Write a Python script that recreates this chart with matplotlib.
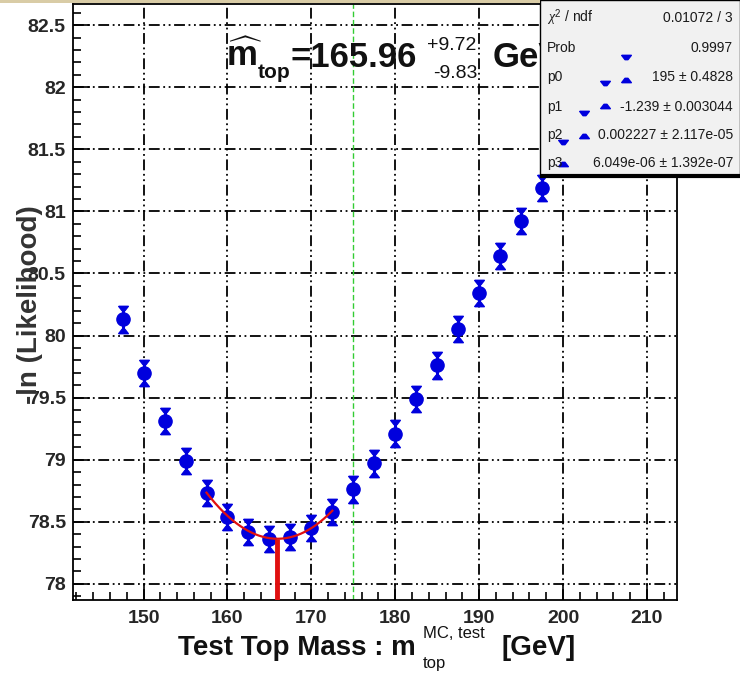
import numpy as np
import matplotlib.pyplot as plt
from matplotlib.patches import Rectangle
from matplotlib.ticker import MultipleLocator

plt.rcParams['font.family'] = ['Liberation Sans', 'DejaVu Sans']
plt.rcParams['mathtext.fontset'] = 'custom'
plt.rcParams['mathtext.rm'] = 'Liberation Sans'
plt.rcParams['mathtext.it'] = 'Liberation Serif:italic'
plt.rcParams['mathtext.bf'] = 'Liberation Sans:bold'

# test masses and -ln(L) values with their errors
mass = [147.5, 150.0, 152.5, 155.0, 157.5, 160.0, 162.5, 165.0, 167.5, 170.0, 172.5,
        175.0, 177.5, 180.0, 182.5, 185.0, 187.5, 190.0, 192.5, 195.0, 197.5]
nll = [80.13, 79.70, 79.31, 78.99, 78.73, 78.54, 78.42, 78.36, 78.38, 78.45, 78.58,
       78.76, 78.97, 79.21, 79.49, 79.76, 80.05, 80.34, 80.64, 80.92, 81.19]
nll_err = [0.09] * len(mass)

# points that sit under the stats box (only their end caps poke through)
mass_hid = [200.0, 202.5, 205.0, 207.5]
nll_hid = [81.47, 81.70, 81.94, 82.15]
err_hid = [0.09] * len(mass_hid)

# pol3 fit result
fit_par = [195.0, -1.239, 0.002227, 6.049e-06]
fit_lo, fit_hi = 157.5, 172.5
m_fit, err_up, err_dn = 165.96, 9.72, 9.83
m_input = 175.0

stat_rows = [(r'$\chi^2$ / ndf', '0.01072 / 3'),
             ('Prob', '0.9997'),
             ('p0', '195 ± 0.4828'),
             ('p1', '-1.239 ± 0.003044'),
             ('p2', '0.002227 ± 2.117e-05'),
             ('p3', '6.049e-06 ± 1.392e-07')]

W, H = 740, 673
fig = plt.figure(figsize=(W / 100, H / 100), dpi=100)
ax = fig.add_axes([72.7 / W, 1 - 600 / H, 604 / W, 596 / H])

def fpos(px, py):
    return px / W, 1 - py / H

blue = '#0000dd'
ink = '#111111'

def pol3(x):
    return fit_par[0] + fit_par[1] * x + fit_par[2] * x**2 + fit_par[3] * x**3

# flat triangular end caps, wide side outwards
cap_top = [(-1, 0.45), (1, 0.45), (0.3, -0.45), (-0.3, -0.45), (-1, 0.45)]
cap_bot = [(x, -y) for x, y in cap_top]

ax.set_xlim(141.55, 213.55)
ax.set_ylim(77.87, 82.67)

# grid in ROOT dash-dot-dot style
ax.grid(True, which='major', color='k', lw=1.3,
        linestyle=(0, (6, 2, 1, 2, 1, 2)), zorder=1)
ax.set_axisbelow(True)

ax.xaxis.set_major_locator(MultipleLocator(10))
ax.xaxis.set_minor_locator(MultipleLocator(2))
ax.yaxis.set_major_locator(MultipleLocator(0.5))
ax.yaxis.set_minor_locator(MultipleLocator(0.1))
ax.tick_params(which='both', direction='in', top=False, right=False, width=1.2,
               colors='k', labelcolor='#262626')
ax.tick_params(which='major', length=12, labelsize=14)
ax.tick_params(axis='x', which='major', pad=7)
ax.tick_params(axis='y', which='major', pad=5)
ax.tick_params(which='minor', length=6)
ax.yaxis.set_major_formatter(plt.FuncFormatter(lambda v, p: f'{v:g}'))
for lab in ax.get_xticklabels() + ax.get_yticklabels():
    lab.set_fontweight('bold')
for s in ax.spines.values():
    s.set_linewidth(1.3)

# input mass line
ax.axvline(m_input, color='#33cc33', lw=1.0, ls=(0, (4, 2)), zorder=2)

# data points: bar, end caps, round marker
up = np.array(nll) + np.array(nll_err)
dn = np.array(nll) - np.array(nll_err)
ax.vlines(mass, dn, up, color=blue, lw=2.2, zorder=3)
ax.plot(mass, up, ls='none', marker=cap_top, color=blue, ms=7, zorder=3)
ax.plot(mass, dn, ls='none', marker=cap_bot, color=blue, ms=7, zorder=3)
ax.plot(mass, nll, 'o', color=blue, ms=9.5, zorder=3)

ax.vlines(mass_hid, np.array(nll_hid) - np.array(err_hid),
          np.array(nll_hid) + np.array(err_hid), color=blue, lw=2.2, zorder=3)
ax.plot(mass_hid, nll_hid, 'o', color=blue, ms=9.5, zorder=3, clip_on=False)
ax.plot(mass_hid, np.array(nll_hid) + np.array(err_hid), ls='none', marker=cap_top,
        color=blue, ms=7, zorder=7, clip_on=False)
ax.plot(mass_hid, np.array(nll_hid) - np.array(err_hid), ls='none', marker=cap_bot,
        color=blue, ms=7, zorder=7, clip_on=False)

# fit curve and minimum
xf = np.linspace(fit_lo, fit_hi, 200)
ax.plot(xf, pol3(xf), color='#e01010', lw=1.6, zorder=4)
ax.plot([m_fit, m_fit], [77.87, pol3(m_fit)], color='#e01010', lw=3.5, zorder=4,
        solid_capstyle='butt')

# fitted mass result
tkw = dict(transform=fig.transFigure, color=ink, ha='left', va='baseline',
           zorder=4, clip_on=False)
ax.text(*fpos(226, 66), r'$\widehat{\mathbf{m}}$', fontsize=25, **tkw)
ax.text(*fpos(258, 78), 'top', fontsize=15, fontweight='bold', **tkw)
ax.text(*fpos(291, 67), '=%.2f' % m_fit, fontsize=25, fontweight='bold', **tkw)
ax.text(*fpos(427, 50), '+%.2f' % err_up, fontsize=14, **tkw)
ax.text(*fpos(433, 78), '-%.2f' % err_dn, fontsize=14, **tkw)
ax.text(*fpos(493, 67), 'GeV', fontsize=25, fontweight='bold', **tkw)

# stats box
box = Rectangle(fpos(540, 175), 200 / W, 175 / H, transform=fig.transFigure,
                facecolor='#f1f1f1', edgecolor='k', lw=1.0, zorder=6, clip_on=False)
ax.add_patch(box)
ax.plot([540 / W, 1.0], [1 - 176 / H, 1 - 176 / H], color='k', lw=3,
        transform=fig.transFigure, zorder=6, clip_on=False, solid_capstyle='butt')
row_y = [18, 48, 77, 107, 135, 163]
for (name, val), py in zip(stat_rows, row_y):
    ax.text(*fpos(547, py), name, transform=fig.transFigure, fontsize=10,
            ha='left', va='center', zorder=8, clip_on=False, color='#1a1a1a')
    ax.text(*fpos(733, py), val, transform=fig.transFigure, fontsize=10,
            ha='right', va='center', zorder=8, clip_on=False, color='#1a1a1a')

# x axis title built from pieces
fig.text(*fpos(178, 655), 'Test Top Mass : m', fontsize=20, fontweight='bold',
         color=ink, ha='left', va='baseline')
fig.text(*fpos(423, 638), 'MC, test', fontsize=12, color=ink, ha='left', va='baseline')
fig.text(*fpos(423, 668), 'top', fontsize=12, color=ink, ha='left', va='baseline')
fig.text(*fpos(502, 655), '[GeV]', fontsize=20, fontweight='bold', color=ink,
         ha='left', va='baseline')
fig.text(*fpos(30, 305), '-ln (Likelihood)', rotation=90, fontsize=20,
         fontweight='bold', color='#333333', ha='center', va='center')

# thin beige strip along the top edge
fig.add_artist(Rectangle((0, 1 - 3 / H), 540 / W, 3 / H, transform=fig.transFigure,
                         facecolor='#d9cca6', edgecolor='none'))

fig.savefig('out.png', dpi=100)
